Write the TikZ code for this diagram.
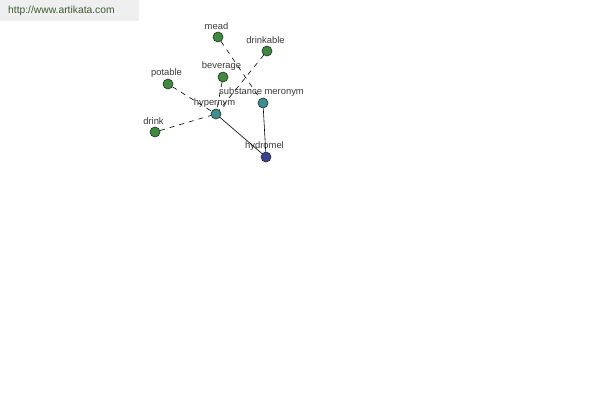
\documentclass[tikz,border=0pt]{standalone}
\usepackage{fontspec}
\setmainfont{Liberation Sans}
\definecolor{nodegreen}{HTML}{3E8A3E}
\definecolor{nodeteal}{HTML}{3A9090}
\definecolor{nodeblue}{HTML}{3A4096}
\definecolor{rimdark}{HTML}{1E2E1E}
\definecolor{labgrey}{HTML}{3A3A3A}
\definecolor{urltext}{HTML}{3F5A34}
\definecolor{urlbg}{HTML}{EFEFEF}
\tikzset{
  dot/.style={circle, draw=rimdark, line width=0.6pt, minimum size=10pt, inner sep=0pt},
  greendot/.style={dot, fill=nodegreen},
  tealdot/.style={dot, fill=nodeteal},
  bluedot/.style={dot, fill=nodeblue},
  lab/.style={text=labgrey, font=\fontsize{9.4}{10}\selectfont, inner sep=0pt, xshift=-1.5pt},
  rel/.style={draw=black, line width=0.6pt},
  reldash/.style={rel, dash pattern=on 5pt off 5pt},
}
\begin{document}
\begin{tikzpicture}[x=1pt, y=-1pt]
\useasboundingbox (0,0) rectangle (600,400);
\fill[white] (0,0) rectangle (600,400);
\fill[urlbg] (0,0) rectangle (139,21);
\node[text=urltext, font=\fontsize{10.3}{12}\selectfont, anchor=west, inner sep=0pt] (url) at (8,11) {http://www.artikata.com};

\node[greendot, label={[lab, label distance=1.5pt]above:mead}] (mead) at (218,37) {};
\node[greendot, label={[lab, label distance=1.5pt]above:drinkable}] (drinkable) at (267,51) {};
\node[greendot, label={[lab, label distance=1.5pt]above:beverage}] (beverage) at (223,77) {};
\node[greendot, label={[lab, label distance=1.5pt]above:potable}] (potable) at (168,84) {};
\node[tealdot, label={[lab, label distance=1.5pt]above:substance meronym}] (subst) at (263,103) {};
\node[tealdot, label={[lab, label distance=1.5pt]above:hypernym}] (hyper) at (216,114) {};
\node[greendot, label={[lab, label distance=1.5pt]above:drink}] (drink) at (155,132) {};
\node[bluedot, label={[lab, label distance=1.5pt]above:hydromel}] (hydromel) at (266,157) {};

\draw[reldash] (mead) -- (subst);
\draw[reldash] (drinkable) -- (hyper);
\draw[reldash] (beverage) -- (hyper);
\draw[reldash] (potable) -- (hyper);
\draw[reldash] (drink) -- (hyper);
\draw[rel] (hyper) -- (hydromel);
\draw[rel] (subst) -- (hydromel);
\end{tikzpicture}
\end{document}
